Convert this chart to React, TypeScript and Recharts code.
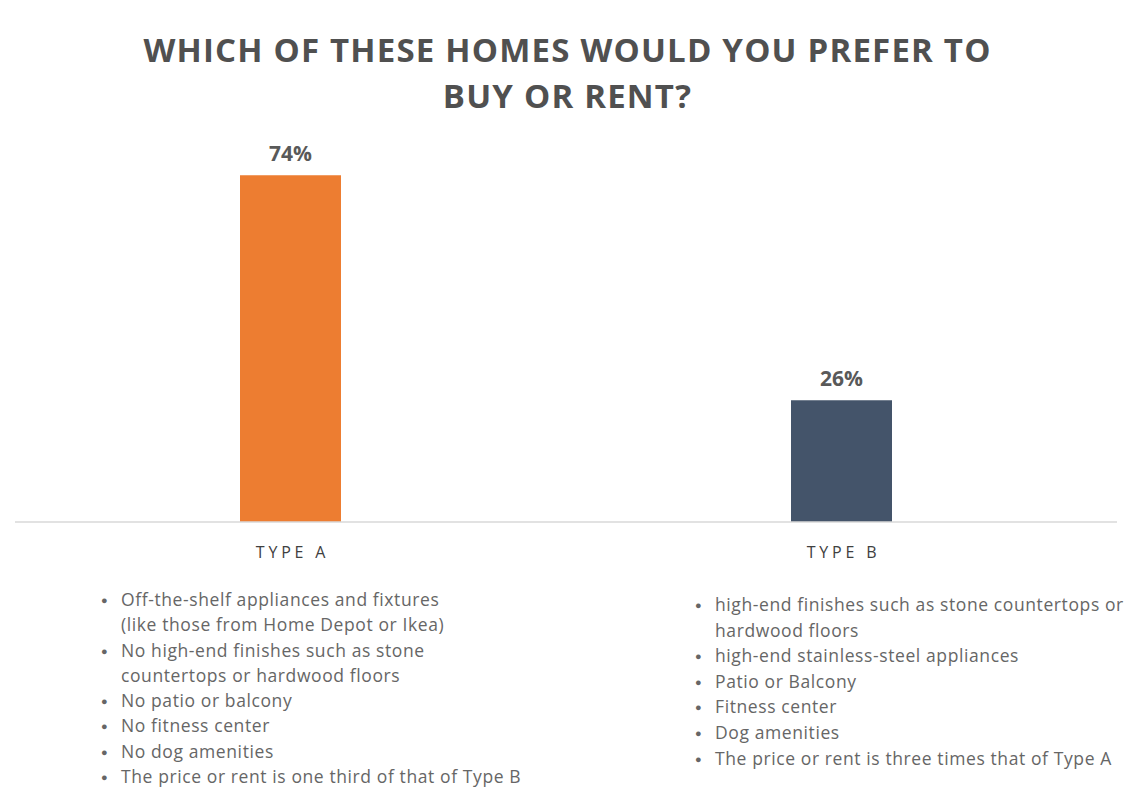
import React from "react";
import { BarChart, Bar, XAxis, YAxis, LabelList, Cell } from "recharts";

const categories = ["TYPE A", "TYPE B"];
const shares = [74, 26];
const barColors = ["#ED7D31", "#44546A"];
const titleLines = ["WHICH OF THESE HOMES WOULD YOU PREFER TO", "BUY OR RENT?"];
const typeAItems = [
  ["Off-the-shelf appliances and fixtures", "(like those from Home Depot or Ikea)"],
  ["No high-end finishes such as stone", "countertops or hardwood floors"],
  ["No patio or balcony"],
  ["No fitness center"],
  ["No dog amenities"],
  ["The price or rent is one third of that of Type B"],
];
const typeBItems = [
  ["high-end finishes such as stone countertops or", "hardwood floors"],
  ["high-end stainless-steel appliances"],
  ["Patio or Balcony"],
  ["Fitness center"],
  ["Dog amenities"],
  ["The price or rent is three times that of Type A"],
];

const data = categories.map((c, i) => ({ name: c, value: shares[i] }));

const font = "'Open Sans', 'Noto Sans', sans-serif";

const Tick = (props: any) => {
  const { x, y, payload } = props;
  return (
    <text x={x + 2} y={y + 28} textAnchor="middle" fill="#404040" fontFamily={font} fontSize={16} letterSpacing={3.8}>
      {payload.value}
    </text>
  );
};

const BulletList = ({ items, left, top, lineH }: { items: string[][]; left: number; top: number; lineH: number }) => (
  <div style={{ position: "absolute", left, top, fontFamily: font, fontSize: 17.5, letterSpacing: 0.6, color: "#666666", lineHeight: `${lineH}px` }}>
    {items.map((lines, i) => (
      <div key={i} style={{ position: "relative", paddingLeft: 20 }}>
        <span style={{ position: "absolute", left: 0, top: 0, fontSize: 11 }}>●</span>
        {lines.map((l, j) => (
          <div key={j} style={{ whiteSpace: "nowrap" }}>{l}</div>
        ))}
      </div>
    ))}
  </div>
);

export default function App() {
  return (
    <div style={{ position: "absolute", left: 0, top: 0, width: 1135, height: 810, background: "#ffffff", overflow: "hidden" }}>
      <div style={{ position: "absolute", left: 0, top: 27, width: 1135, textAlign: "center", fontFamily: font, fontWeight: 700, fontSize: 33, color: "#505050", lineHeight: "46px", letterSpacing: 1.2 }}>
        {titleLines.map((t, i) => (
          <div key={i}>{t}</div>
        ))}
      </div>
      <div style={{ position: "absolute", left: 0, top: 0 }}>
        <BarChart width={1135} height={810} data={data} margin={{ top: 147, right: 18, bottom: 0, left: 15 }} barSize={101}>
          <XAxis dataKey="name" height={288} tickLine={false} axisLine={{ stroke: "#d9d9d9", strokeWidth: 1.5 }} tick={<Tick />} interval={0} />
          <YAxis hide domain={[0, 80]} />
          <Bar dataKey="value" isAnimationActive={false}>
            {data.map((d, i) => (
              <Cell key={d.name} fill={barColors[i]} />
            ))}
            <LabelList dataKey="value" position="top" offset={14} formatter={(v: any) => `${v}%`} fill="#595959" fontFamily={font} fontWeight={700} fontSize={21} />
          </Bar>
        </BarChart>
      </div>
      <BulletList items={typeAItems} left={101} top={587} lineH={25.3} />
      <BulletList items={typeBItems} left={695} top={592} lineH={25.6} />
    </div>
  );
}
